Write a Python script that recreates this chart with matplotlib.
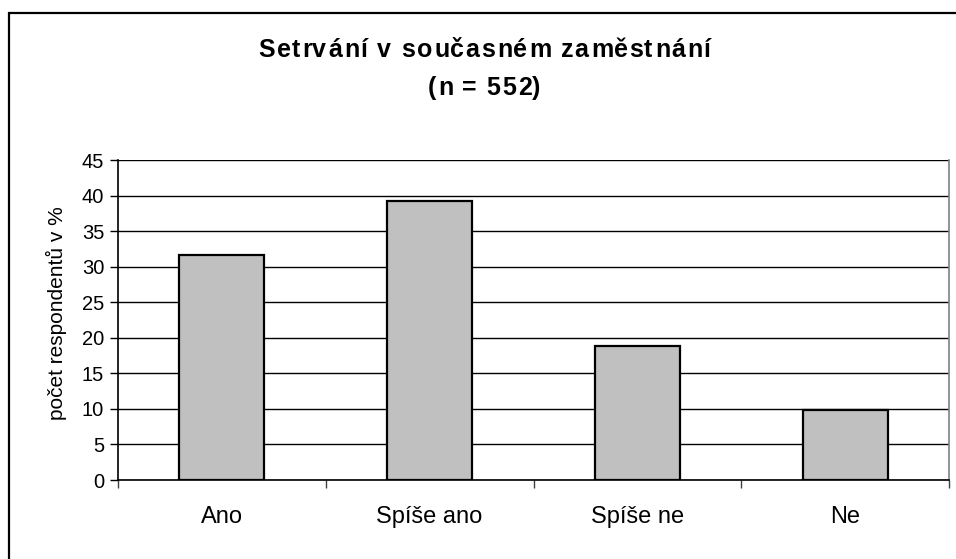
import matplotlib
matplotlib.use("Agg")
import matplotlib.pyplot as plt
from matplotlib.patches import Rectangle
from matplotlib import font_manager
from matplotlib.ft2font import FT2Font
import numpy as np

categories = ["Ano", "Spíše ano", "Spíše ne", "Ne"]
values = [31.6, 39.2, 18.9, 9.9]
yticks = [0, 5, 10, 15, 20, 25, 30, 35, 40, 45]
title_lines = ["Setrvání v současném zaměstnání", "(n = 552)"]
ylabel = "počet respondentů v %"

plt.rcParams['font.family'] = ['Liberation Sans', 'DejaVu Sans']

W, H = 956, 559
DPI = 100
fig = plt.figure(figsize=(W / DPI, H / DPI), dpi=DPI)
ax = fig.add_axes([118 / W, 1 - 480 / H, (949 - 118) / W, (480 - 160) / H])

x = np.arange(len(categories))
ax.bar(x, values, width=0.41, color="#C0C0C0", edgecolor="black", linewidth=1.6, zorder=3)

ax.set_xlim(-0.5, len(categories) - 0.5)
ax.set_ylim(0, 45)
ax.set_yticks(yticks)
ax.set_yticklabels([str(v) for v in yticks], fontsize=14.5)
ax.yaxis.grid(True, color="black", linewidth=1.0, zorder=0)
ax.set_axisbelow(True)

# category labels centered, tick marks at category boundaries
ax.set_xticks(np.arange(-0.5, len(categories), 1.0))
ax.set_xticklabels([])
ax.set_xticks(x, minor=True)
ax.set_xticklabels(categories, minor=True, fontsize=17)
ax.tick_params(axis="x", which="minor", length=0, pad=19)
ax.tick_params(axis="x", which="major", length=6, width=1, color="#404040")
ax.tick_params(axis="y", length=6, width=1, pad=4)

ax.set_ylabel(ylabel, fontsize=15)
ax.yaxis.set_label_coords((67 - 118) / (949 - 118), 0.52)

ax.spines["top"].set_visible(False)
ax.spines["right"].set_color("#808080")
ax.spines["right"].set_linewidth(1.2)
ax.spines["left"].set_linewidth(1.2)
ax.spines["bottom"].set_linewidth(1.2)

# title with letter spacing, drawn char by char as real text
title_size = 18
spacing_px = 1.5
fp = font_manager.FontProperties(family="Liberation Sans", weight="bold", size=title_size)
ft = FT2Font(font_manager.findfont(fp))
ft.set_size(title_size, DPI)
center_x = 483.5
baselines = [57, 95]
for line, base in zip(title_lines, baselines):
    advs, lsbs = [], []
    for ch in line:
        g = ft.load_char(ord(ch))
        advs.append(g.linearHoriAdvance / 65536)
        lsbs.append(g.horiBearingX / 64)
    total = sum(advs) + spacing_px * (len(line) - 1)
    pen = center_x - total / 2
    for ch, a, l in zip(line, advs, lsbs):
        if ch != " ":
            fig.text((pen + l) / W, 1 - base / H, ch, ha="left", va="baseline",
                     fontproperties=fp)
        pen += a + spacing_px

# chart border (extends past right and bottom edge)
fig.patches.append(Rectangle((8.5 / W, -0.05), 1.1, 1.05 - 13 / H, transform=fig.transFigure,
                             fill=False, edgecolor="black", linewidth=1.6, clip_on=False))

fig.savefig("out.png", dpi=DPI)
